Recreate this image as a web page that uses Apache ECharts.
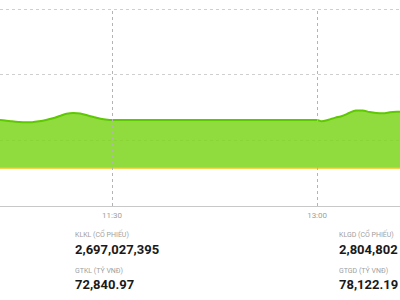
<!DOCTYPE html>
<html>
<head>
<meta charset="utf-8">
<script src="https://cdn.jsdelivr.net/npm/echarts@6/dist/echarts.min.js"></script>
<style>
html,body{margin:0;padding:0;background:#fff;}
#chart{width:400px;height:300px;}
</style>
</head>
<body>
<div id="chart"></div>
<script>
// time in minutes since midnight
var times = [640,643,646,649,652,655,658,661,664,667,670,673,676,679,682,685,688,690,
             780,782,785,788,791,794,797,800,803,806,809,812,815,818];
var values = [1246.55,1246.51,1246.45,1246.40,1246.37,1246.38,1246.45,1246.55,1246.68,1246.85,1247.02,1247.08,1247.04,1246.91,1246.77,1246.64,1246.57,1246.55,
              1246.55,1246.45,1246.57,1246.73,1246.85,1247.08,1247.27,1247.27,1247.15,1247.08,1247.06,1247.13,1247.17,1247.19];
var refPrice = 1242.89;
var xTickValues = [690, 780]; // 11:30, 13:00
var leftStats = {label1:'KLKL (CỔ PHIẾU)', value1:'2,697,027,395', label2:'GTKL (TỶ VNĐ)', value2:'72,840.97'};
var rightStats = {label1:'KLGD (CỔ PHIẾU)', value1:'2,804,802', label2:'GTGD (TỶ VNĐ)', value2:'78,122.19'};

var data = times.map(function(t,i){return [t, values[i]];});
function fmt(m){var h=Math.floor(m/60), mm=Math.round(m%60); return h+':'+(mm<10?'0':'')+mm;}

var chart = echarts.init(document.getElementById('chart'), null, {renderer:'svg'});
var labelFont = {fontFamily:'Roboto', fontSize:7, fill:'#a0a0a0'};
var valFont = {fontFamily:'Roboto', fontSize:13, fontWeight:'bold', fill:'#1a1a1a'};
function statTexts(x, s){
  return [
    {type:'text', style:Object.assign({text:s.label1, x:x, y:235, verticalAlign:'middle'}, labelFont)},
    {type:'text', style:Object.assign({text:s.value1, x:x, y:249.5, verticalAlign:'middle'}, valFont)},
    {type:'text', style:Object.assign({text:s.label2, x:x, y:270.5, verticalAlign:'middle'}, labelFont)},
    {type:'text', style:Object.assign({text:s.value2, x:x, y:284, verticalAlign:'middle'}, valFont)}
  ];
}
chart.setOption({
  animation:false,
  grid:{left:0, right:0, top:9, bottom:94},
  xAxis:{
    type:'value', min:640.8, max:816.4,
    axisLine:{show:true, lineStyle:{color:'#c8c8c8', width:1}},
    axisTick:{show:false},
    axisLabel:{color:'#a0a0a0', fontSize:8, fontFamily:'Roboto', margin:5,
      customValues:xTickValues, formatter:function(v){return fmt(v);}},
    splitLine:{show:false}
  },
  yAxis:{
    type:'value', min:1240, max:1255, interval:5,
    axisLine:{show:false}, axisTick:{show:false}, axisLabel:{show:false},
    splitLine:{show:true, lineStyle:{color:'#cfcfcf', type:[3,3], width:1}}
  },
  series:[{
    type:'line', data:data, symbol:'none', smooth:0.3,
    lineStyle:{color:'#5ec800', width:2},
    areaStyle:{color:'rgb(124,214,28)', opacity:0.85, origin:refPrice},
    markLine:{
      symbol:'none', silent:true, label:{show:false},
      data:[
        {yAxis:refPrice, lineStyle:{color:'#f2c619', width:1.5, type:'solid'}},
        {xAxis:xTickValues[0], lineStyle:{color:'#b4b4b4', width:1, type:[3,3]}},
        {xAxis:xTickValues[1], lineStyle:{color:'#b4b4b4', width:1, type:[3,3]}}
      ]
    },
    z:2
  }],
  graphic: statTexts(75, leftStats).concat(statTexts(339, rightStats))
});
</script>
</body>
</html>
